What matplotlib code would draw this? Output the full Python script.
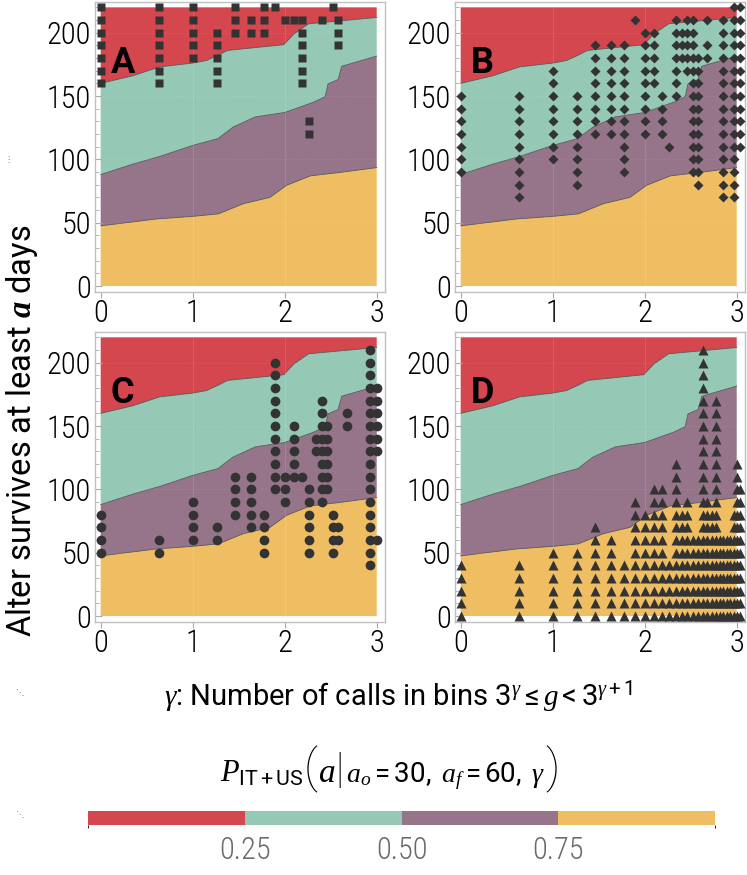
import numpy as np
import matplotlib
matplotlib.use("Agg")
import matplotlib.pyplot as plt
from matplotlib.colors import ListedColormap, BoundaryNorm
from matplotlib.cm import ScalarMappable
from matplotlib.ticker import MultipleLocator

# region boundaries (gamma, days), same in every panel
TOP_DAYS = 220
B1_GAMMA = [0, 0.35, 0.64, 1.0, 1.15, 1.27, 1.38, 1.99, 2.10, 2.26, 3.0]
B1_DAYS = [160, 166, 173, 176, 178, 182, 186, 190.5, 199, 207, 212]
B2_GAMMA = [0, 0.34, 0.65, 1.0, 1.28, 1.32, 1.44, 1.68, 2.0, 2.31, 2.44, 2.47, 2.58, 2.62, 3.0]
B2_DAYS = [88, 96, 102.5, 111, 116.5, 119, 125.5, 133.5, 137, 145, 149.5, 159.5, 163, 173.5, 181.5]
B3_GAMMA = [0, 0.61, 1.0, 1.28, 1.55, 1.84, 2.02, 2.28, 2.58, 3.0]
B3_DAYS = [47.5, 53, 55, 57, 65, 70, 79.5, 87, 89.5, 93.5]

# observed points: one column of days per gamma
A_GAMMA = [0.0, 0.631, 1.0, 1.262, 1.465, 1.631, 1.771, 1.893, 2.0, 2.096, 2.183, 2.262, 2.402, 2.524, 2.579]
A_DAYS = [
    [220, 210, 200, 190, 180, 170, 160],
    [220, 210, 200, 190, 180, 170, 160],
    [220, 210, 200, 190, 180],
    [200, 190, 180, 170, 160],
    [220, 210, 200],
    [210, 200],
    [220, 210, 200],
    [220],
    [210],
    [210],
    [210, 200, 190, 180, 170, 160],
    [130, 120],
    [210],
    [220],
    [210, 200, 190],
]

B_GAMMA = [0.0, 0.631, 1.0, 1.262, 1.465, 1.631, 1.771, 1.893, 2.0, 2.096, 2.183, 2.262,
           2.335, 2.402, 2.465, 2.524, 2.579, 2.680, 2.854, 2.966, 3.033]
B_DAYS = [
    [150, 140, 130, 120, 110, 100, 90],
    [150, 140, 130, 120, 110, 100, 90, 80, 70],
    [170, 160, 150, 140, 130, 120, 110, 100],
    [150, 140, 130, 120, 110, 100, 90, 80],
    [190, 180, 170, 160, 150, 140, 130, 120],
    [190, 180, 170, 160, 150, 140, 130, 120],
    [190, 180, 170, 160, 150, 140, 130, 120, 110, 100, 90],
    [210],
    [200, 190, 180, 170, 160, 150, 140, 130, 120],
    [200, 190, 180, 170, 160],
    [150, 140, 130, 120],
    [110],
    [210, 200, 190, 180, 170, 160, 150],
    [200, 190, 180],
    [210, 200, 190, 180, 170],
    [210, 200, 190, 180, 170, 160, 150, 140, 130, 120, 110, 100, 90],
    [180, 170, 160, 150, 140, 130, 120, 110, 100, 90, 80],
    [210, 190, 180],
    [210, 200, 190, 180, 170, 160, 150, 140, 130, 120, 110, 100, 90, 80, 70],
    [220, 210, 200, 190, 180, 170, 160, 150, 140, 130, 120, 110, 100, 90, 80, 70],
    [220, 210, 200, 190, 180, 170, 160, 150, 140, 130, 120, 110],
]

C_GAMMA = [0.0, 0.631, 1.0, 1.262, 1.465, 1.631, 1.771, 1.893, 2.0, 2.096, 2.183, 2.262,
           2.335, 2.402, 2.465, 2.524, 2.579, 2.680, 2.930, 3.0]
C_DAYS = [
    [80, 70, 60, 50],
    [60, 50],
    [90, 80, 70, 60],
    [70, 60],
    [110, 100, 90, 80],
    [110, 100, 90, 80, 70],
    [80, 70, 60, 50],
    [200, 190, 180, 170, 160, 150, 140, 130, 120, 110, 100],
    [110, 100, 90],
    [150, 140, 130, 120, 110],
    [110],
    [100, 90, 80, 70, 60, 50],
    [140, 130],
    [170, 160, 150, 140, 130, 120, 110, 100, 90],
    [150, 140, 130, 120, 110, 100],
    [80, 70, 60, 50],
    [70, 60],
    [160, 150],
    [210, 200, 190, 180, 170, 160, 150, 140, 130, 120, 110, 100, 90, 80, 70, 60, 50, 40],
    [180, 170, 160, 150, 140, 130, 60],
]

D_GAMMA = [0.0, 0.631, 1.0, 1.262, 1.465, 1.631, 1.771, 1.893, 2.0, 2.096, 2.183, 2.262,
           2.335, 2.402, 2.465, 2.524, 2.579, 2.631, 2.680, 2.727, 2.771, 2.813, 2.854,
           2.893, 2.930, 2.966, 3.0, 3.033]
D_DAYS = [
    [40, 30, 20, 10, 0],
    [40, 30, 20, 10, 0],
    [50, 40, 30, 20, 10, 0],
    [50, 40, 30, 20, 10, 0],
    [70, 60, 50, 40, 30, 20, 10, 0],
    [60, 50, 40, 30, 20, 10, 0],
    [40, 30, 20, 10, 0],
    [90, 80, 70, 60, 50, 40, 30, 20, 10, 0],
    [80, 70, 60, 50, 40, 30, 20, 10, 0],
    [100, 90, 80, 70, 60, 50, 40, 30, 20, 10, 0],
    [100, 90, 80, 70, 60, 50, 40, 30, 20, 10, 0],
    [40, 30, 20, 10, 0],
    [120, 110, 100, 90, 80, 70, 60, 50, 40, 30, 20, 10, 0],
    [80, 70, 60, 50, 40, 30, 20, 10, 0],
    [90, 80, 70, 60, 50, 40, 30, 20, 10, 0],
    [60, 50, 40, 30, 20, 10, 0],
    [60, 50, 40, 30, 20, 10, 0],
    [210, 200, 190, 180, 170, 160, 150, 140, 130, 120, 110, 100, 90, 80, 70, 60, 50, 40, 30, 20, 10, 0],
    [90, 80, 70, 60, 50, 40, 30, 20, 10, 0],
    [80, 70, 60, 50, 40, 30, 20, 10, 0],
    [170, 160, 150, 140, 130, 120, 110, 100, 90, 80, 70, 60, 50, 40, 30, 20, 10, 0],
    [60, 50, 40, 30, 20, 10, 0],
    [60, 50, 40, 30, 20, 10, 0],
    [60, 50, 40, 30, 20, 10, 0],
    [60, 50, 40, 30, 20, 10, 0],
    [80, 70, 60, 50, 40, 30, 20, 10, 0],
    [120, 110, 100, 90, 80, 70, 60, 50, 40, 30, 20, 10, 0],
    [100, 90, 80, 70, 60, 50, 40, 30, 20, 10, 0],
]

X_TICKS = [0, 1, 2, 3]
Y_TICKS = [0, 50, 100, 150, 200]
CB_TICKS = [0.25, 0.50, 0.75]
CB_LABELS = ["0.25", "0.50", "0.75"]
COLORS = ["#d4474f", "#95c9b5", "#96758b", "#efbe62"]
TICK_FONT = "Roboto Condensed"

plt.rcParams["font.family"] = ["Roboto", "DejaVu Sans"]
plt.rcParams["mathtext.fontset"] = "custom"
plt.rcParams["mathtext.rm"] = "Roboto"
plt.rcParams["mathtext.sf"] = "Roboto"
plt.rcParams["mathtext.it"] = "Liberation Serif:italic"
plt.rcParams["mathtext.bfit"] = "Liberation Serif:italic:bold"

W, H = 747, 875
fig = plt.figure(figsize=(W / 100, H / 100), dpi=100)


def px_axes(x0, y0, x1, y1):
    return fig.add_axes([x0 / W, 1 - y1 / H, (x1 - x0) / W, (y1 - y0) / H])


def draw_panel(ax, gammas, days, marker, ms, letter):
    # filled regions, bottom to top
    ax.fill(np.r_[0, 3, B3_GAMMA[::-1]], np.r_[0, 0, B3_DAYS[::-1]], color=COLORS[3], lw=0)
    ax.fill(np.r_[B3_GAMMA, B2_GAMMA[::-1]], np.r_[B3_DAYS, B2_DAYS[::-1]], color=COLORS[2], lw=0)
    ax.fill(np.r_[B2_GAMMA, B1_GAMMA[::-1]], np.r_[B2_DAYS, B1_DAYS[::-1]], color=COLORS[1], lw=0)
    ax.fill(np.r_[B1_GAMMA, 3, 0], np.r_[B1_DAYS, TOP_DAYS, TOP_DAYS], color=COLORS[0], lw=0)
    for gx, gy in [(B1_GAMMA, B1_DAYS), (B2_GAMMA, B2_DAYS), (B3_GAMMA, B3_DAYS)]:
        ax.plot(gx, gy, color="#555555", lw=0.6)
    for v in [1, 2]:
        ax.axvline(v, color="white", lw=0.7, alpha=0.12)
    for v in [50, 100, 150, 200]:
        ax.axhline(v, color="white", lw=0.7, alpha=0.12, ls=":")

    xs, ys = [], []
    for g, col in zip(gammas, days):
        xs += [g] * len(col)
        ys += col
    ax.plot(xs, ys, ls="none", marker=marker, ms=ms, color="#333333",
            mec="none", clip_on=False, zorder=4)

    ax.set_xlim(-0.062, 3.09)
    ax.set_ylim(-4.7, 224.2)
    ax.set_xticks(X_TICKS, labels=[str(v) for v in X_TICKS], fontfamily=TICK_FONT,
                  fontweight="light", fontsize=22)
    ax.set_yticks(Y_TICKS, labels=[str(v) for v in Y_TICKS], fontfamily=TICK_FONT,
                  fontweight="light", fontsize=22)
    ax.yaxis.set_minor_locator(MultipleLocator(10))
    ax.tick_params(axis="both", which="both", direction="in", color="#a8a8a8", pad=3)
    ax.tick_params(axis="y", which="major", length=5)
    ax.tick_params(axis="y", which="minor", length=3)
    ax.tick_params(axis="x", which="major", length=4, direction="out", pad=1)
    for s in ax.spines.values():
        s.set_color("#c0c0c0")
        s.set_linewidth(1.0)
    ax.text(0.055, 0.79, letter, transform=ax.transAxes, fontsize=26,
            fontweight="bold", va="center", ha="left", zorder=5)


def text_row(pieces, xc, y_base):
    # lay text pieces side by side, centred on xc, sharing one baseline
    texts = [fig.text(0, 1 - y_base / H, s, va="baseline", ha="left", **kw) for s, kw in pieces]
    r = fig.canvas.get_renderer()
    widths = [t.get_window_extent(r).width for t in texts]
    x = xc - sum(widths) / 2
    for t, w in zip(texts, widths):
        t.set_x(x / W)
        x += w


ax_a = px_axes(95, 2, 385, 292)
ax_b = px_axes(455, 2, 745, 292)
ax_c = px_axes(95, 332, 385, 622)
ax_d = px_axes(455, 332, 745, 622)
draw_panel(ax_a, A_GAMMA, A_DAYS, "s", 5.8, "A")
draw_panel(ax_b, B_GAMMA, B_DAYS, "D", 4.8, "B")
draw_panel(ax_c, C_GAMMA, C_DAYS, "o", 7.0, "C")
draw_panel(ax_d, D_GAMMA, D_DAYS, "^", 6.5, "D")

fig.text(22 / W, 1 - 431 / H, r"Alter survives at least $\mathbfit{a}$ days",
         rotation=90, ha="center", va="center", fontsize=23.5)
fig.text(398 / W, 1 - 697 / H,
         r"$\gamma$: Number of calls in bins $3^{\gamma} \leq g < 3^{\gamma+1}$",
         ha="center", va="center", fontsize=21)

text_row([
    (r"$P_{\mathsf{IT+US}}$", dict(fontsize=22)),
    ("(", dict(fontsize=34, fontweight="light")),
    (r"$a$", dict(fontsize=24)),
    ("|", dict(fontsize=30, fontweight="light")),
    (r"$\,a_o = 30,\ a_f = 60,\ \gamma$", dict(fontsize=20)),
    (")", dict(fontsize=34, fontweight="light")),
], 390, 782)

# colour key
cax = px_axes(88, 811, 715, 825)
cmap = ListedColormap(COLORS)
norm = BoundaryNorm([0, 0.25, 0.5, 0.75, 1.0], cmap.N)
cb = fig.colorbar(ScalarMappable(norm=norm, cmap=cmap), cax=cax,
                  orientation="horizontal", ticks=CB_TICKS)
cb.outline.set_visible(False)
cb.ax.set_xticks(CB_TICKS, labels=CB_LABELS, fontfamily=TICK_FONT,
                 fontweight="light", fontsize=22)
cb.ax.tick_params(length=0, labelcolor="#6a6a6a", pad=8)

# small marks left over at the figure edge
fig.text(8 / W, 1 - 160 / H, "\u22ee", fontsize=6, color="#777777", ha="center", va="center")
fig.text(20 / W, 1 - 693 / H, "\u22f1", fontsize=6, color="#777777", ha="center", va="center")
fig.text(20 / W, 1 - 815 / H, "\u22f1", fontsize=6, color="#777777", ha="center", va="center")

fig.savefig("out.png", dpi=100)
